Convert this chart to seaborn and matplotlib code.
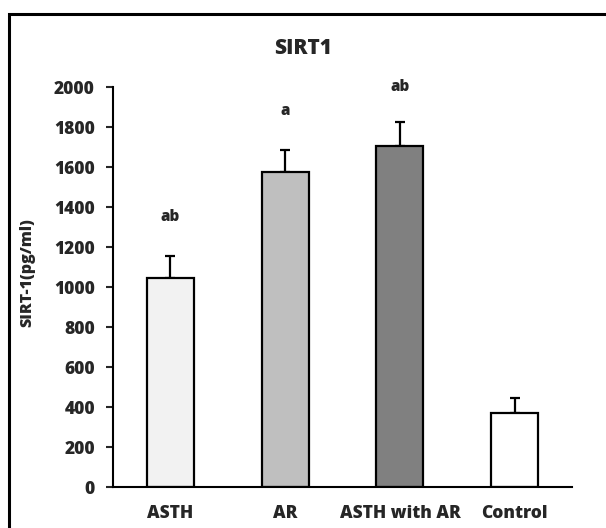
import matplotlib
matplotlib.use("Agg")
import matplotlib.pyplot as plt
import seaborn as sns
import pandas as pd
from matplotlib.patches import Rectangle

# --- data ---
groups = ["ASTH", "AR", "ASTH with AR", "Control"]
means = [1046, 1573, 1707, 371]
errors = [111, 112, 116, 72]
letters = ["ab", "a", "ab", ""]
letter_y = [1350, 1880, 2000, 0]
bar_colors = ["#f2f2f2", "#bfbfbf", "#808080", "#ffffff"]

df = pd.DataFrame({"group": groups, "value": means})

sns.set_style("white")
plt.rcParams["font.family"] = ["Open Sans", "DejaVu Sans"]
plt.rcParams["font.weight"] = "bold"

fig = plt.figure(figsize=(6.06, 5.28), dpi=100)
ax = fig.add_axes([113 / 606, 1 - 487 / 528, (572 - 113) / 606, (487 - 87) / 528])

sns.barplot(data=df, x="group", y="value", hue="group", palette=bar_colors,
            order=groups, hue_order=groups, legend=False, width=0.41,
            edgecolor="black", linewidth=1.6, ax=ax, errorbar=None, zorder=2)

# upward-only error bars, Excel style
ax.errorbar(range(len(groups)), means, yerr=[[0] * len(errors), errors],
            fmt="none", ecolor="black", elinewidth=1.6, capsize=3.5,
            capthick=1.6, zorder=1)

for i, (txt, yy) in enumerate(zip(letters, letter_y)):
    if txt:
        ax.text(i, yy, txt, ha="center", va="center", fontsize=11,
                fontweight="heavy")

ax.set_xlim(-0.5, 3.5)
ax.set_ylim(0, 2000)
ax.set_yticks(range(0, 2001, 200))
ax.set_xlabel("")
ax.set_ylabel("SIRT-1(pg/ml)", fontsize=11.5, fontweight="heavy")
ax.yaxis.set_label_coords(-0.17, 0.535)
# title is centred on the whole figure, not on the axes
fig.text(0.5, 1 - 48 / 528, "SIRT1", ha="center", va="center",
         fontsize=15, fontweight="heavy")

for s in ["top", "right"]:
    ax.spines[s].set_visible(False)
for s in ["left", "bottom"]:
    ax.spines[s].set_linewidth(1.5)
    ax.spines[s].set_color("black")

ax.tick_params(axis="y", direction="out", length=5, width=1.5, pad=8,
               labelsize=12.5, left=True)
ax.tick_params(axis="x", length=0, pad=13, labelsize=12.5)
for lab in ax.get_xticklabels() + ax.get_yticklabels():
    lab.set_fontweight("heavy")

# figure border (cut off at right and bottom like the original image)
fig.patches.append(Rectangle((9 / 606, -0.05), 1.2, 1 - 14 / 528 + 0.05,
                             transform=fig.transFigure, fill=False,
                             edgecolor="black", linewidth=2.2, zorder=10))

fig.savefig("out.png", dpi=100)
